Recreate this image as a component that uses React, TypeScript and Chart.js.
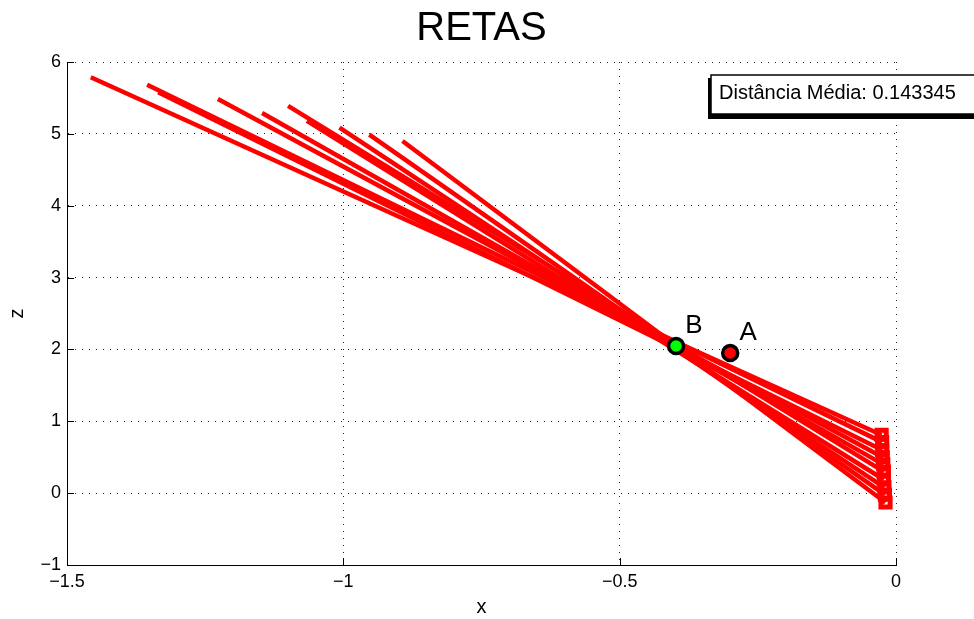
import React, { useEffect, useRef } from "react";
import { Chart, registerables } from "chart.js";

Chart.register(...registerables);

// ---- data ----
const lineStartX = [-1.457, -1.355, -1.335, -1.227, -1.147, -1.1, -1.066, -1.007, -0.953, -0.893];
const lineStartZ = [5.787, 5.684, 5.58, 5.485, 5.29, 5.39, 5.18, 5.086, 4.99, 4.9];
const lineEndX = [-0.026, -0.025, -0.025, -0.024, -0.023, -0.022, -0.022, -0.021, -0.02, -0.019];
const lineEndZ = [0.81, 0.71, 0.6, 0.5, 0.4, 0.3, 0.19, 0.08, -0.02, -0.13];

const pointNames = ["A", "B"];
const pointX = [-0.3, -0.398];
const pointZ = [1.95, 2.048];
const pointColors = ["#ff0000", "#00ff00"];

const xTicks = [-1.5, -1, -0.5, 0];
const xTickLabels = ["\u22121.5", "\u22121", "\u22120.5", "0"];
const zTicks = [-1, 0, 1, 2, 3, 4, 5, 6];
const zTickLabels = ["\u22121", "0", "1", "2", "3", "4", "5", "6"];

const titleText = "RETAS";
const xTitle = "x";
const zTitle = "z";
const legendText = "Dist\u00e2ncia M\u00e9dia: 0.143345";

const FONT = "'Liberation Sans', Arial, Helvetica, sans-serif";

function labelFor(ticks: number[], labels: string[], v: number): string {
  const i = ticks.findIndex((t) => Math.abs(t - v) < 1e-9);
  return i >= 0 ? labels[i] : "";
}

const annotPlugin = {
  id: "annot",
  afterDraw(chart: any) {
    const ctx = chart.ctx as CanvasRenderingContext2D;
    const xs = chart.scales.x;
    const ys = chart.scales.y;
    const ca = chart.chartArea;
    ctx.save();
    // inward tick marks
    ctx.strokeStyle = "#000";
    ctx.lineWidth = 1;
    xTicks.forEach((v) => {
      const px = Math.round(xs.getPixelForValue(v)) + 0.5;
      ctx.beginPath();
      ctx.moveTo(px, ca.bottom);
      ctx.lineTo(px, ca.bottom - 7);
      ctx.stroke();
    });
    zTicks.forEach((v) => {
      const py = Math.round(ys.getPixelForValue(v)) + 0.5;
      ctx.beginPath();
      ctx.moveTo(ca.left, py);
      ctx.lineTo(ca.left + 7, py);
      ctx.stroke();
    });
    // point labels
    ctx.fillStyle = "#000";
    ctx.font = `26px ${FONT}`;
    ctx.textAlign = "center";
    ctx.textBaseline = "middle";
    pointNames.forEach((n, i) => {
      const px = xs.getPixelForValue(pointX[i]);
      const py = ys.getPixelForValue(pointZ[i]);
      ctx.fillText(n, px + 18, py - 20);
    });
    // legend box
    ctx.fillStyle = "#000";
    ctx.fillRect(708, 78, 280, 41);
    ctx.fillStyle = "#fff";
    ctx.fillRect(711, 75, 280, 39);
    ctx.strokeStyle = "#000";
    ctx.lineWidth = 1.5;
    ctx.strokeRect(711, 75, 280, 39);
    ctx.fillStyle = "#000";
    ctx.font = `20px ${FONT}`;
    ctx.textAlign = "left";
    ctx.textBaseline = "middle";
    ctx.fillText(legendText, 719, 93);
    ctx.restore();
  },
};

export default function App() {
  const ref = useRef<HTMLCanvasElement | null>(null);

  useEffect(() => {
    if (!ref.current) return;
    const lineSets = lineStartX.map((sx, i) => ({
      type: "scatter" as const,
      data: [
        { x: sx, y: lineStartZ[i] },
        { x: lineEndX[i], y: lineEndZ[i] },
      ],
      showLine: true,
      borderColor: "#ff0000",
      borderWidth: 4.5,
      pointRadius: [0, 6.5],
      pointStyle: "rect",
      pointBorderColor: "#ff0000",
      pointBackgroundColor: "rgba(0,0,0,0)",
      pointBorderWidth: 5,
      order: 2,
    }));
    const pointSets = pointNames.map((n, i) => ({
      type: "scatter" as const,
      label: n,
      data: [{ x: pointX[i], y: pointZ[i] }],
      pointRadius: 7.5,
      pointBorderWidth: 3.5,
      pointBorderColor: "#000",
      pointBackgroundColor: pointColors[i],
      order: 1,
    }));

    const chart = new Chart(ref.current, {
      type: "scatter",
      data: { datasets: [...lineSets, ...pointSets] as any },
      options: {
        animation: false,
        responsive: false,
        devicePixelRatio: 1,
        layout: { padding: { left: 0, right: 78, top: 0, bottom: 0 } },
        plugins: {
          legend: { display: false },
          tooltip: { enabled: false },
          title: {
            display: true,
            fullSize: false,
            text: titleText,
            color: "#000",
            font: { family: FONT, size: 40, weight: "normal", lineHeight: 1.2 },
            padding: { top: 5, bottom: 9 },
          },
        },
        scales: {
          x: {
            type: "linear",
            min: -1.5,
            max: 0,
            afterFit: (s: any) => {
              s.height = 54;
            },
            afterBuildTicks: (s: any) => {
              s.ticks = xTicks.map((v) => ({ value: v }));
            },
            ticks: {
              color: "#000",
              font: { family: FONT, size: 18 },
              padding: 6,
              maxRotation: 0,
              autoSkip: false,
              callback: (v: any) => labelFor(xTicks, xTickLabels, Number(v)),
            },
            grid: { color: "#222", lineWidth: 1, drawTicks: false },
            border: { display: true, color: "#000", width: 1, dash: [1, 6] },
            title: {
              display: true,
              text: xTitle,
              color: "#000",
              font: { family: FONT, size: 20, lineHeight: 1.2 },
              padding: { top: 0, bottom: 0 },
            },
          },
          y: {
            type: "linear",
            min: -1,
            max: 6,
            afterFit: (s: any) => {
              s.width = 67;
            },
            afterBuildTicks: (s: any) => {
              s.ticks = zTicks.map((v) => ({ value: v }));
            },
            ticks: {
              color: "#000",
              font: { family: FONT, size: 18 },
              padding: 6,
              autoSkip: false,
              callback: (v: any) => labelFor(zTicks, zTickLabels, Number(v)),
            },
            grid: { color: "#222", lineWidth: 1, drawTicks: false },
            border: { display: true, color: "#000", width: 1, dash: [1, 6] },
            title: {
              display: true,
              text: zTitle,
              color: "#000",
              font: { family: FONT, size: 20, lineHeight: 1.2 },
              padding: { top: 5, bottom: 0 },
            },
          },
        },
      } as any,
      plugins: [annotPlugin],
    });
    return () => chart.destroy();
  }, []);

  return (
    <div style={{ position: "fixed", left: 0, top: 0, width: 974, height: 619, background: "#fff" }}>
      <canvas ref={ref} width={974} height={619} style={{ width: 974, height: 619, display: "block" }} />
    </div>
  );
}
